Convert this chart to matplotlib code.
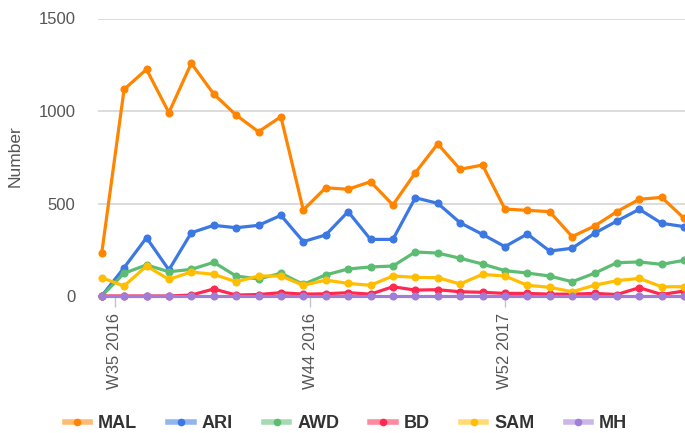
import matplotlib
matplotlib.use("Agg")
import matplotlib.pyplot as plt
from matplotlib.lines import Line2D
from matplotlib.legend_handler import HandlerTuple

plt.rcParams['font.family'] = ['Liberation Sans', 'DejaVu Sans']

series_names = ["MAL", "ARI", "AWD", "BD", "SAM", "MH"]
MAL = [231, 1117, 1225, 991, 1258, 1092, 978, 888, 969, 465, 585, 577, 618, 492,
       666, 822, 685, 708, 470, 463, 456, 321, 378, 456, 523, 533, 420]
ARI = [0, 153, 315, 141, 342, 382, 369, 382, 436, 294, 330, 456, 306, 306,
       531, 501, 396, 333, 267, 335, 243, 258, 339, 405, 469, 393, 375]
AWD = [0, 123, 168, 131, 144, 182, 108, 92, 123, 63, 114, 146, 157, 162,
       238, 232, 204, 173, 137, 124, 108, 77, 123, 180, 184, 171, 193]
BD = [0, 0, 0, 0, 5, 38, 5, 8, 18, 10, 12, 18, 10, 50,
      32, 34, 23, 20, 14, 14, 10, 10, 14, 8, 45, 8, 27]
SAM = [99, 54, 162, 90, 130, 117, 77, 108, 108, 58, 86, 68, 58, 108,
       101, 99, 65, 117, 108, 58, 47, 23, 58, 83, 95, 50, 50]
MH = [0] * 27
week_index = list(range(27))
xtick_labels = ["W35 2016", "W44 2016", "W52 2017"]
xtick_pos = [0.59, 9.30, 18.0]
ytick_vals = [0, 500, 1000, 1500]

colors = {"MAL": "#ff8400", "ARI": "#3b78e3", "AWD": "#5cbd72",
          "BD": "#ff2850", "SAM": "#ffbe00", "MH": "#a07dd6"}
data = {"MAL": MAL, "ARI": ARI, "AWD": AWD, "BD": BD, "SAM": SAM, "MH": MH}

W, H = 685, 433
fig = plt.figure(figsize=(W / 100, H / 100), dpi=100)
left_px, right_px = 97.7, 685
top_px, bot_px = 18.5, 296
ax = fig.add_axes([left_px / W, (H - bot_px) / H, (right_px - left_px) / W, (bot_px - top_px) / H])

step = 22.4
ax.set_xlim(-(101.7 - left_px) / step, (right_px - 101.7) / step)
ax.set_ylim(0, 1500)

for name in series_names:
    ax.plot(week_index, data[name], color=colors[name], lw=2.3, marker='o', ms=4.8,
            solid_joinstyle='round', clip_on=False, zorder=3)

ax.set_yticks(ytick_vals)
ax.set_yticklabels([str(v) for v in ytick_vals])
ax.tick_params(axis='y', length=0, pad=16, labelsize=12, labelcolor='#555555')
ax.set_xticks(xtick_pos)
ax.set_xticklabels(xtick_labels, rotation=90, va='top', ha='center')
ax.tick_params(axis='x', length=8, width=1, color='#b9c6da', pad=4, labelsize=12,
               labelcolor='#555555')
ax.grid(axis='y', color='#d9d9d9', lw=1.3)
ax.set_axisbelow(True)
for s in ax.spines.values():
    s.set_visible(False)

fig.text(15.5 / W, (H - 156.5) / H, "Number", rotation=90, ha='center', va='center',
         fontsize=12.5, color='#555555')

handles = []
for name in series_names:
    l1 = Line2D([], [], color=colors[name], lw=4, alpha=0.55)
    l2 = Line2D([], [], color=colors[name], lw=0, marker='o', ms=4.5)
    handles.append((l1, l2))
leg = fig.legend(handles, series_names, ncol=6, loc='center', numpoints=1,
                 bbox_to_anchor=(346 / W, (H - 424) / H), frameon=False,
                 handlelength=1.4, handletextpad=0.45, columnspacing=1.72,
                 handler_map={tuple: HandlerTuple(ndivide=1, pad=0)},
                 prop={'weight': 'bold', 'size': 13})
for t in leg.get_texts():
    t.set_color('#333333')

fig.savefig("out.png", dpi=100)
